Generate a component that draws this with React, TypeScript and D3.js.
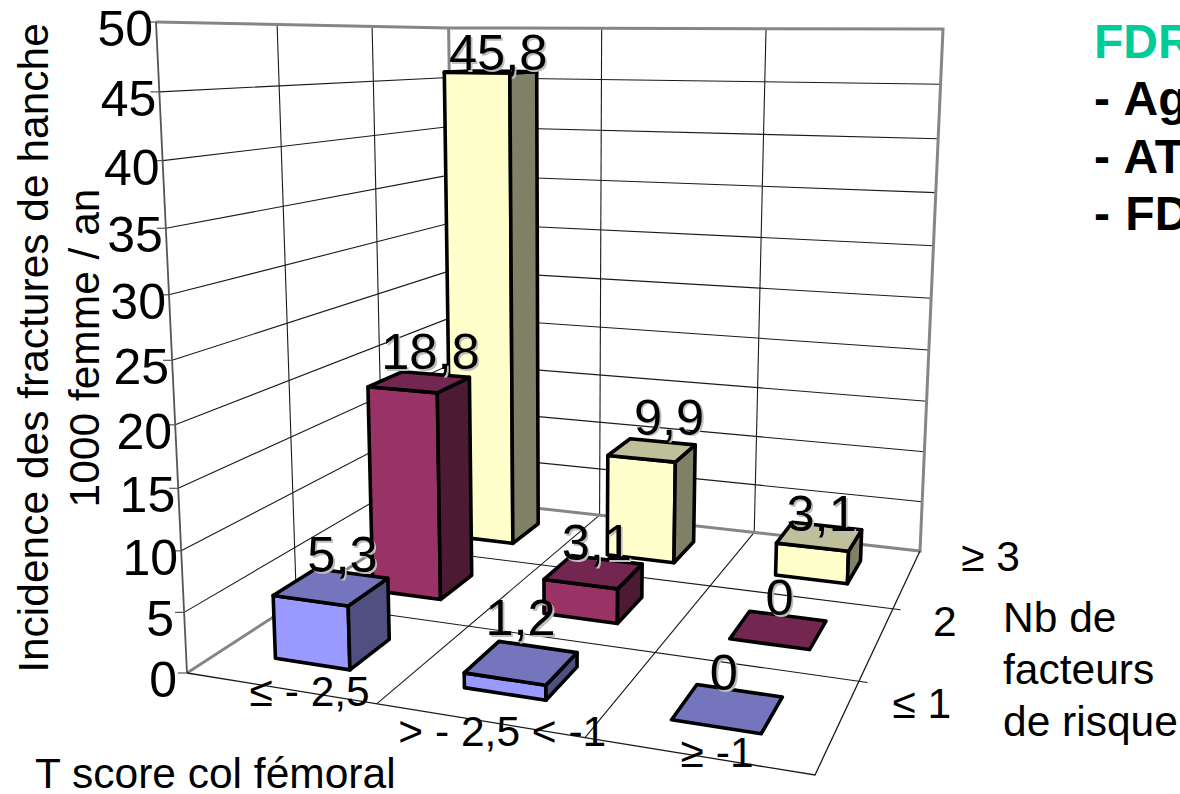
import React from "react";
import * as d3 from "d3";

// Incidence of hip fractures per 1000 women / year, by femoral-neck T score and risk-factor count
const tScoreLabels = ["≤ - 2,5", "> - 2,5 < -1", "≥ -1"];
const riskLabels = ["≤ 1", "2", "≥ 3"];
const lowRiskValues = [5.3, 1.2, 0];
const midRiskValues = [18.8, 3.1, 0];
const highRiskValues = [45.8, 9.9, 3.1];
const incidenceTicks = d3.range(0, 51, 5);

const rowValues = [lowRiskValues, midRiskValues, highRiskValues];
const rowColors = [
  { front: "#9999ff", top: "#7575bd", side: "#505080" },
  { front: "#993366", top: "#732650", side: "#4d1a33" },
  { front: "#ffffcc", top: "#bfbf99", side: "#808066" },
];

// Hand placement of the value labels relative to each bar's top, by risk row then T-score column
const labelNudgeX = [
  [1, -4, 0],
  [1, 0, 5],
  [-3, 14, 6],
];
const labelNudgeY = [
  [-2, -12, 0],
  [0, 4, 3],
  [11, 0, 13],
];
const tLabelDx = [30, 24, 20];
const tLabelDy = [18, 26, 11];
const riskLabelDx = [54, 56, 54];

type Pt = [number, number];

// Perspective box: floor corners and top edge of the walls
const floorFL: Pt = [187, 673];
const floorFR: Pt = [815, 775];
const floorBR: Pt = [920, 551];
const floorBL: Pt = [455, 499];
const topFL: Pt = [156, 22];
const topBR: Pt = [943, 28];

// Homogeneous camera: floor homography from the four corners, plus a height column
function buildCamera() {
  const [x0, y0] = floorFL, [x1, y1] = floorFR, [x2, y2] = floorBR, [x3, y3] = floorBL;
  const dx1 = x1 - x2, dx2 = x3 - x2, dy1 = y1 - y2, dy2 = y3 - y2;
  const sx = x0 - x1 + x2 - x3, sy = y0 - y1 + y2 - y3;
  const det = dx1 * dy2 - dx2 * dy1;
  const g = (sx * dy2 - dx2 * sy) / det;
  const h = (dx1 * sy - sx * dy1) / det;
  const A = [x1 - x0 + g * x1, y1 - y0 + g * y1, g];
  const B = [x3 - x0 + h * x3, y3 - y0 + h * y3, h];
  const D = [x0, y0, 1];
  // Height column: (0,0,1) lands on topFL and the x of (1,1,1) lands on topBR
  const solve = (w: number) => [topFL[0] * (D[2] + w) - D[0], topFL[1] * (D[2] + w) - D[1], w];
  const num = topBR[0] * (A[2] + B[2] + D[2]) - (A[0] + B[0] + D[0]) - (topFL[0] * D[2] - D[0]);
  const w = num / (topFL[0] - topBR[0]);
  const C = solve(w);
  return { A, B, C, D };
}
const cam = buildCamera();

const uScale = d3.scaleLinear().domain([0, 3]).range([0, 1]);
const vScale = d3.scaleLinear().domain([0, 3]).range([0, 1]);
const hScale = d3.scaleLinear().domain([0, 50]).range([0, 1]);

// Project category position (u), risk position (v) and incidence (h) to the page
function project(u: number, v: number, h: number): Pt {
  const a = uScale(u), b = vScale(v), c = hScale(h);
  const X = cam.A[0] * a + cam.B[0] * b + cam.C[0] * c + cam.D[0];
  const Y = cam.A[1] * a + cam.B[1] * b + cam.C[1] * c + cam.D[1];
  const W = cam.A[2] * a + cam.B[2] * b + cam.C[2] * c + cam.D[2];
  return [X / W, Y / W];
}

const poly = (pts: Pt[]) => (d3.line()(pts) as string) + "Z";
const seg = (a: Pt, b: Pt) => d3.line()([a, b]) as string;

const FONT = "'Liberation Sans', Arial, sans-serif";
const GRID = "#1a1a1a";
const WALL = "#868686";
const BAR_FRACTION = 0.405;

function Bar({ col, row }: { col: number; row: number }) {
  const value = rowValues[row][col];
  const colors = rowColors[row];
  const pad = (1 - BAR_FRACTION) / 2;
  const u0 = col + pad, u1 = col + 1 - pad;
  const v0 = row + pad, v1 = row + 1 - pad;
  const stroke = { stroke: "#000", strokeWidth: 3.6, strokeLinejoin: "round" as const };
  const topFace = [project(u0, v0, value), project(u1, v0, value), project(u1, v1, value), project(u0, v1, value)];
  return (
    <g>
      {value > 0 && (
        <>
          <path d={poly([project(u0, v0, 0), project(u1, v0, 0), project(u1, v0, value), project(u0, v0, value)])} fill={colors.front} {...stroke} />
          <path d={poly([project(u1, v0, 0), project(u1, v1, 0), project(u1, v1, value), project(u1, v0, value)])} fill={colors.side} {...stroke} />
        </>
      )}
      <path d={poly(topFace)} fill={colors.top} {...stroke} />
    </g>
  );
}

function ValueLabel({ col, row }: { col: number; row: number }) {
  const value = rowValues[row][col];
  const [x, y] = project(col + 0.5, row + 0.5, value);
  const lx = x + 10 - 7 * col + labelNudgeX[row][col];
  const ly = y - 13 - 2.5 * col + labelNudgeY[row][col];
  const text = String(value).replace(".", ",");
  return (
    <g fontSize={50.5} textAnchor="middle" fontFamily={FONT}>
      <text x={lx + 1.8} y={ly + 1.8} fill="#bdbdbd">{text}</text>
      <text x={lx} y={ly} fill="#000">{text}</text>
    </g>
  );
}

export default function App() {
  const cells = d3.cross(d3.range(3).reverse(), d3.range(3), (row, col) => ({ row, col }));
  return (
    <svg width={1180} height={794} viewBox="0 0 1180 794"
      style={{ position: "absolute", left: 0, top: 0, display: "block", background: "#fff" }}>
      {/* Horizontal gridlines round the two walls */}
      {incidenceTicks.filter((t) => t > 0 && t < 50).map((t) => (
        <path key={t} fill="none" stroke={GRID} strokeWidth={1.1}
          d={d3.line()([project(0, 0, t), project(0, 3, t), project(3, 3, t)]) as string} />
      ))}
      {/* Vertical gridlines on both walls */}
      {[1, 2].map((v) => (
        <path key={"lv" + v} stroke={GRID} strokeWidth={1.1} d={seg(project(0, v, 0), project(0, v, 50))} />
      ))}
      {[1, 2].map((u) => (
        <path key={"bu" + u} stroke={GRID} strokeWidth={1.1} d={seg(project(u, 3, 0), project(u, 3, 50))} />
      ))}
      {/* Floor grid, drawn with a small overhang on the right edge */}
      {[1, 2].map((u) => (
        <path key={"fu" + u} stroke={GRID} strokeWidth={1.1} d={seg(project(u, 0, 0), project(u, 3, 0))} />
      ))}
      {[1, 2].map((v) => (
        <path key={"fv" + v} stroke={GRID} strokeWidth={1.1} d={seg(project(0, v, 0), project(3.04, v, 0))} />
      ))}
      {/* Wall frame */}
      <path fill="none" stroke={WALL} strokeWidth={3}
        d={d3.line()([project(0, 0, 50), project(0, 3, 50), project(3, 3, 50), project(3, 3, 0), project(0, 3, 0), project(0, 0, 0)]) as string} />
      <path stroke={WALL} strokeWidth={3} d={seg(project(0, 3, 0), project(0, 3, 50))} />
      <path stroke="#555" strokeWidth={1.8} d={seg(project(0, 0, 0), project(0, 0, 50))} />
      <path fill="none" stroke={GRID} strokeWidth={1.3}
        d={d3.line()([project(0, 0, 0), project(3, 0, 0), project(3, 3, 0)]) as string} />

      {/* Bars, back row first */}
      {cells.map(({ row, col }) => <Bar key={`${row}-${col}`} row={row} col={col} />)}

      {/* Incidence axis */}
      {incidenceTicks.map((t) => {
        const [x, y] = project(0, 0, t);
        return (
          <g key={t} fontFamily={FONT}>
            <path stroke="#555" strokeWidth={1.2} d={`M${x - 9},${y}H${x}`} />
            <text x={t < 10 ? x - 10 : x - 3} y={y + 24} fontSize={50} textAnchor="end" fill="#000">{t}</text>
          </g>
        );
      })}

      {cells.map(({ row, col }) => <ValueLabel key={`${row}-${col}`} row={row} col={col} />)}

      {/* Category labels */}
      <g fontFamily={FONT} fontSize={42.5} fill="#000">
        {tScoreLabels.map((label, i) => {
          const [x, y] = project(i + 0.5, 0, 0);
          return <text key={label} x={x + tLabelDx[i]} y={y + tLabelDy[i]} textAnchor="middle">{label}</text>;
        })}
        {riskLabels.map((label, i) => {
          const [x, y] = project(3, i + 0.5, 0);
          return <text key={label} x={x + riskLabelDx[i]} y={y - 7} textAnchor="start">{label}</text>;
        })}
        <text x={35} y={788}>T score col fémoral</text>
        <text x={1003} y={632}>Nb de</text>
        <text x={1003} y={684}>facteurs</text>
        <text x={1003} y={736}>de risque</text>
        <g textAnchor="middle">
          <text transform="translate(48,348) rotate(-90)">Incidence des fractures de hanche</text>
          <text transform="translate(99,348) rotate(-90)">1000 femme / an</text>
        </g>
      </g>

      {/* Risk-factor note */}
      <g fontFamily={FONT} fontSize={48} fontWeight="bold">
        <text x={1094} y={58} fill="#00cc99">FDR</text>
        <text x={1094} y={115} fill="#000">- <tspan dx={2}>Ag</tspan></text>
        <text x={1094} y={173} fill="#000">- <tspan dx={2}>AT</tspan></text>
        <text x={1094} y={230} fill="#000">- <tspan dx={2}>FD</tspan></text>
      </g>
    </svg>
  );
}
